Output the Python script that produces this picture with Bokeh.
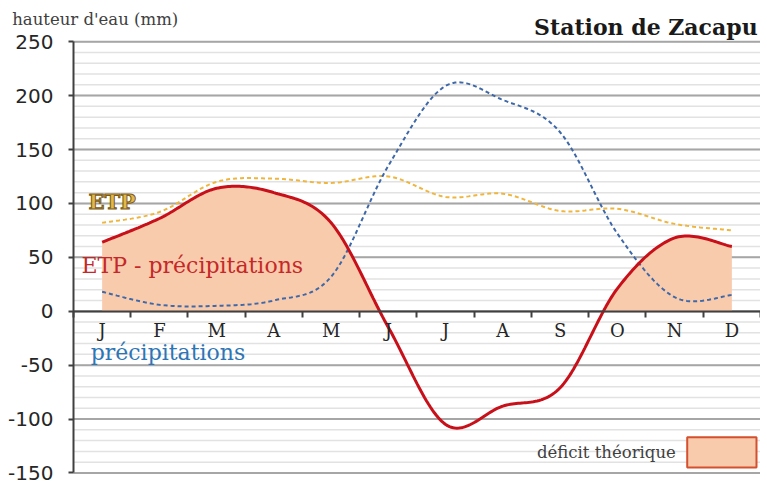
import numpy as np
from bokeh.plotting import figure
from bokeh.models import (Range1d, LinearAxis, FixedTicker, Label, BoxAnnotation)
from bokeh.embed import file_html
from bokeh.resources import INLINE

# ---- data ----
months = ["J", "F", "M", "A", "M", "J", "J", "A", "S", "O", "N", "D"]
etp = [82, 92, 120, 123, 119, 125, 106, 109, 93, 95, 81, 75]
precip = [18, 6, 5, 10, 32, 135, 209, 196, 166, 72, 13, 15]
etp_minus_p = [64, 86, 114, 110, 82, -15, -105, -88, -71, 21, 68, 60]
y_ticks = [-150, -100, -50, 0, 50, 100, 150, 200, 250]
y_minor = list(range(-150, 251, 10))

x = np.arange(len(months)) + 0.5


def smooth(xs, ys, n=30):
    """Catmull-Rom style smoothed path through the data points (like a smoothed line)."""
    xs = np.asarray(xs, float)
    ys = np.asarray(ys, float)
    px = np.concatenate([[xs[0]], xs, [xs[-1]]])
    py = np.concatenate([[ys[0]], ys, [ys[-1]]])
    outx, outy = [], []
    t = np.linspace(0, 1, n, endpoint=False)
    for i in range(1, len(px) - 2):
        p0x, p1x, p2x, p3x = px[i - 1], px[i], px[i + 1], px[i + 2]
        p0y, p1y, p2y, p3y = py[i - 1], py[i], py[i + 1], py[i + 2]
        c1x, c1y = p1x + (p2x - p0x) / 6, p1y + (p2y - p0y) / 6
        c2x, c2y = p2x - (p3x - p1x) / 6, p2y - (p3y - p1y) / 6
        b0 = (1 - t) ** 3
        b1 = 3 * (1 - t) ** 2 * t
        b2 = 3 * (1 - t) * t ** 2
        b3 = t ** 3
        outx.append(b0 * p1x + b1 * c1x + b2 * c2x + b3 * p2x)
        outy.append(b0 * p1y + b1 * c1y + b2 * c2y + b3 * p2y)
    outx.append([xs[-1]])
    outy.append([ys[-1]])
    return np.concatenate(outx), np.concatenate(outy)


p = figure(width=760, height=487, x_range=Range1d(-1.275, 12.0),
           y_range=Range1d(-163.5, 288.2),
           x_axis_type=None, y_axis_type=None, output_backend="svg",
           toolbar_location=None, min_border=0)
p.outline_line_color = None
p.background_fill_color = "white"
p.xgrid.visible = False
p.ygrid.visible = False

# horizontal grid lines (minor then major), spanning the plot width only
p.segment(x0=0, x1=12, y0=y_minor, y1=y_minor, line_color="#e2e2e2", line_width=1.5)
p.segment(x0=0, x1=12, y0=y_ticks, y1=y_ticks, line_color="#a6a6a6", line_width=2)

# deficit fill and curves
sx, sd = smooth(x, etp_minus_p)
p.varea(x=sx, y1=0, y2=np.maximum(sd, 0), fill_color="#F8CBAD", fill_alpha=1)

ex, ey = smooth(x, etp)
p.line(ex, ey, line_color="#f0b53c", line_width=2, line_dash="4 3")
px_, py_ = smooth(x, precip)
p.line(px_, py_, line_color="#3e68a8", line_width=2, line_dash="4 3")
p.line(sx, sd, line_color="#c8101a", line_width=3)

# y axis at x = 0
yax = LinearAxis(fixed_location=0, ticker=FixedTicker(ticks=y_ticks), bounds=(-150, 250))
yax.axis_line_color = "#404040"
yax.axis_line_width = 2
yax.major_tick_line_color = "#404040"
yax.major_tick_line_width = 2
yax.major_tick_out = 5
yax.major_tick_in = 0
yax.minor_tick_line_color = None
yax.major_label_standoff = 15
yax.major_label_overrides = {v: str(v) for v in y_ticks}
yax.major_label_text_font = "DejaVu Sans"
yax.major_label_text_font_size = "20px"
yax.major_label_text_color = "#262626"
p.add_layout(yax, "left")

# x axis at y = 0 : boundary ticks
ax_ticks = LinearAxis(fixed_location=0, ticker=FixedTicker(ticks=list(range(0, 13))),
                      bounds=(0, 12))
ax_ticks.axis_line_color = "#404040"
ax_ticks.axis_line_width = 2
ax_ticks.major_tick_line_color = "#404040"
ax_ticks.major_tick_line_width = 2
ax_ticks.major_tick_out = 6
ax_ticks.major_tick_in = 0
ax_ticks.minor_tick_line_color = None
ax_ticks.major_label_text_alpha = 0
ax_ticks.major_label_text_font_size = "1px"
p.add_layout(ax_ticks, "below")

# month labels
ax_lab = LinearAxis(fixed_location=0, ticker=FixedTicker(ticks=list(x)))
ax_lab.axis_line_color = None
ax_lab.major_tick_line_color = None
ax_lab.minor_tick_line_color = None
ax_lab.major_tick_out = 0
ax_lab.major_label_standoff = 9
ax_lab.major_label_overrides = {float(v): m for v, m in zip(x, months)}
ax_lab.major_label_text_font = "DejaVu Serif"
ax_lab.major_label_text_font_size = "18px"
ax_lab.major_label_text_color = "#262626"
p.add_layout(ax_lab, "below")

# texts
p.add_layout(Label(x=11.95, y=264, text="Station de Zacapu", text_align="right",
                   text_baseline="alphabetic", text_font="DejaVu Serif",
                   text_font_style="bold", text_font_size="22px", text_color="#1a1a1a"))
p.add_layout(Label(x=-1.07, y=271, text="hauteur d'eau (mm)", text_align="left",
                   text_baseline="alphabetic", text_font="DejaVu Serif",
                   text_font_size="16.5px", text_color="#404040"))
p.add_layout(Label(x=0.26, y=102, text="ETP", text_align="left", text_baseline="alphabetic",
                   text_font="DejaVu Serif", text_font_style="bold", text_font_size="21px",
                   text_color="#e3b84a", text_outline_color="#7a5a18"))
p.add_layout(Label(x=0.14, y=42.5, text="ETP - précipitations", text_align="left",
                   text_baseline="alphabetic", text_font="DejaVu Serif",
                   text_font_size="22px", text_color="#c62828"))
p.add_layout(Label(x=0.30, y=-38.5, text="précipitations", text_align="left",
                   text_baseline="alphabetic", text_font="DejaVu Serif",
                   text_font_size="22px", text_color="#2e75b6"))

# legend for deficit
p.add_layout(BoxAnnotation(left=10.72, right=11.93, bottom=-145, top=-117,
                           fill_color="#F8CBAD", fill_alpha=1,
                           line_color="#d4502e", line_width=2, line_alpha=1))
p.add_layout(Label(x=10.52, y=-131.5, text="déficit théorique", text_align="right",
                   text_baseline="middle", text_font="DejaVu Serif",
                   text_font_size="16.5px", text_color="#404040"))

open("out.html", "w").write(file_html(p, INLINE))
